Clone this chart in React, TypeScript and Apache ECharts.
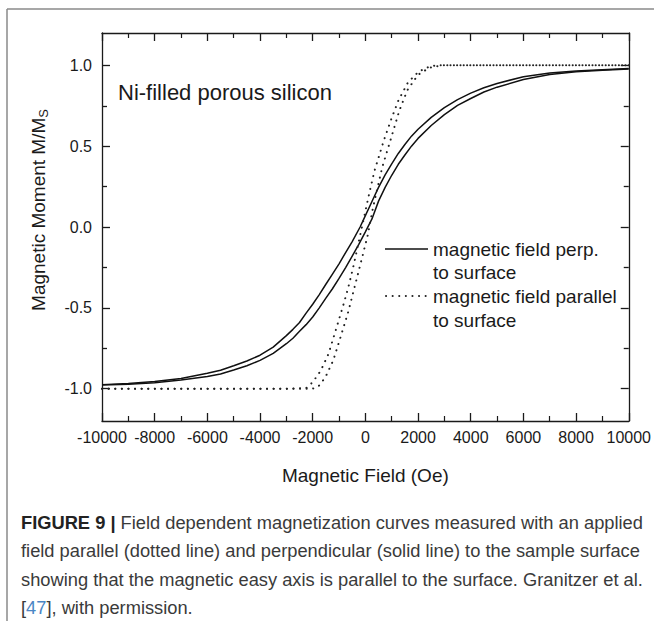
import { useEffect, useRef } from "react";
import * as echarts from "echarts";

// Applied field (Oe) and normalised moment M/Ms, perpendicular field: descending branch
const perpDescField = [-10000, -9000, -8000, -7000, -6000, -5500, -5000, -4500, -4000, -3500, -3000, -2750, -2500, -2250, -2000, -1750, -1500, -1250, -1000, -750, -500, -200, 0, 250, 500, 750, 1000, 1250, 1500, 1750, 2000, 2500, 3000, 3500, 4000, 4500, 5000, 6000, 7000, 8000, 9000, 10000];
const perpDescMoment = [-0.975, -0.968, -0.956, -0.937, -0.905, -0.886, -0.858, -0.829, -0.793, -0.743, -0.672, -0.633, -0.591, -0.533, -0.478, -0.418, -0.354, -0.291, -0.228, -0.158, -0.09, 0.0, 0.07, 0.158, 0.245, 0.322, 0.39, 0.455, 0.51, 0.562, 0.605, 0.678, 0.738, 0.788, 0.828, 0.861, 0.888, 0.93, 0.952, 0.965, 0.973, 0.98];

// Perpendicular field: ascending branch
const perpAscField = [-10000, -9000, -8000, -7000, -6000, -5500, -5000, -4500, -4000, -3500, -3000, -2750, -2500, -2250, -2000, -1750, -1500, -1250, -1000, -750, -500, -250, 0, 250, 500, 750, 1000, 1250, 1500, 1750, 2000, 2500, 3000, 3500, 4000, 4500, 5000, 6000, 7000, 8000, 9000, 10000];
const perpAscMoment = [-0.978, -0.973, -0.963, -0.947, -0.925, -0.909, -0.885, -0.858, -0.825, -0.782, -0.722, -0.688, -0.645, -0.604, -0.557, -0.5, -0.44, -0.382, -0.318, -0.251, -0.18, -0.108, -0.03, 0.05, 0.16, 0.245, 0.32, 0.388, 0.445, 0.5, 0.548, 0.628, 0.695, 0.752, 0.795, 0.835, 0.865, 0.912, 0.943, 0.96, 0.97, 0.978];

// Parallel field: descending branch
const parDescField = [-10000, -8000, -6000, -4000, -3000, -2250, -2000, -1700, -1400, -1100, -850, -650, -450, -250, -50, 150, 350, 700, 1000, 1260, 1620, 2030, 2400, 2700, 4000, 6000, 8000, 10000];
const parDescMoment = [-1.0, -1.0, -1.0, -1.0, -1.0, -0.997, -0.96, -0.89, -0.785, -0.625, -0.49, -0.375, -0.24, -0.09, 0.06, 0.21, 0.35, 0.535, 0.675, 0.785, 0.895, 0.962, 0.99, 1.0, 1.0, 1.0, 1.0, 1.0];

// Parallel field: ascending branch
const parAscField = [-10000, -8000, -6000, -4000, -2000, -1780, -1520, -1220, -960, -660, -360, -110, 90, 290, 640, 940, 1290, 1590, 1990, 2430, 2900, 4000, 6000, 8000, 10000];
const parAscMoment = [-1.0, -1.0, -1.0, -1.0, -1.0, -0.985, -0.93, -0.825, -0.69, -0.53, -0.34, -0.18, -0.05, 0.12, 0.37, 0.53, 0.72, 0.845, 0.94, 0.985, 1.0, 1.0, 1.0, 1.0, 1.0];

const yMajorTicks = [-1, -0.5, 0, 0.5, 1];
const yMinorTicks = [-0.75, -0.25, 0.25, 0.75];

const legendPerp = ["magnetic field perp.", "to surface"];
const legendPar = ["magnetic field parallel", "to surface"];
const sampleLabel = "Ni-filled porous silicon";
const xTitle = "Magnetic Field (Oe)";

const captionLines = [
  "{b|FIGURE 9 |} Field dependent magnetization curves measured with an applied",
  "field parallel (dotted line) and perpendicular (solid line) to the sample surface",
  "showing that the magnetic easy axis is parallel to the surface. Granitzer et al.",
  "[{ref|47}], with permission.",
];

const FONT = "'Liberation Sans', Arial, Helvetica, sans-serif";
const INK = "#1a1a1a";
const DOTS = [0.1, 6.5];

const zip = (xs: number[], ys: number[]) => xs.map((x, i) => [x, ys[i]]);

export default function App() {
  const ref = useRef<HTMLDivElement>(null);

  useEffect(() => {
    document.body.style.margin = "0";
    const chart = echarts.init(ref.current!, null, { renderer: "svg" });

    const baseX = {
      type: "value" as const,
      min: -10000,
      max: 10000,
      interval: 2000,
      splitLine: { show: false },
      axisLine: { show: true, onZero: false, lineStyle: { color: INK, width: 1.3 } },
      axisTick: { show: true, inside: true, length: 8, lineStyle: { color: INK, width: 1.3 } },
      minorTick: { show: true, splitNumber: 2, length: 5, lineStyle: { color: INK, width: 1.2 } },
    };

    const baseY = (position: "left" | "right", ticks: number[], len: number, showLine: boolean) => ({
      type: "value" as const,
      position,
      min: -1.2,
      max: 1.2,
      splitLine: { show: false },
      axisLine: { show: showLine, onZero: false, lineStyle: { color: INK, width: 1.3 } },
      axisTick: { show: true, inside: true, length: len, customValues: ticks, lineStyle: { color: INK, width: 1.3 } },
      axisLabel: { show: false, customValues: ticks },
    });

    const leftMajor: any = baseY("left", yMajorTicks, 8, true);
    leftMajor.axisLabel = {
      show: true,
      customValues: yMajorTicks,
      formatter: (v: number) => v.toFixed(1),
      fontSize: 16,
      fontFamily: FONT,
      color: INK,
      margin: 10,
    };

    const line = (xs: number[], ys: number[], dotted: boolean) => ({
      type: "line" as const,
      xAxisIndex: 0,
      yAxisIndex: 0,
      data: zip(xs, ys),
      showSymbol: false,
      smooth: false,
      silent: true,
      lineStyle: dotted
        ? { color: "#222", width: 2, type: DOTS as any, cap: "round" as const }
        : { color: "#111", width: 1.5 },
    });

    chart.setOption({
      animation: false,
      backgroundColor: "#ffffff",
      grid: { left: 102, top: 33, width: 527, height: 388, containLabel: false },
      xAxis: [
        {
          ...baseX,
          position: "bottom",
          axisLabel: { fontSize: 16, fontFamily: FONT, color: INK, margin: 8, formatter: (v: number) => String(v) },
          name: xTitle,
          nameLocation: "middle",
          nameGap: 45,
          nameTextStyle: { fontSize: 19, fontFamily: FONT, color: INK },
        },
        { ...baseX, position: "top", axisLabel: { show: false } },
      ],
      yAxis: [
        leftMajor,
        baseY("left", yMinorTicks, 5, false),
        baseY("right", yMajorTicks, 8, true),
        baseY("right", yMinorTicks, 5, false),
      ],
      series: [
        line(perpDescField, perpDescMoment, false),
        line(perpAscField, perpAscMoment, false),
        line(parDescField, parDescMoment, true),
        line(parAscField, parAscMoment, true),
      ],
      graphic: [
        // page frame
        { type: "line", shape: { x1: 7, y1: 9, x2: 654, y2: 9 }, style: { stroke: "#8a8a8a", lineWidth: 1.5 } },
        { type: "line", shape: { x1: 7, y1: 9, x2: 7, y2: 621 }, style: { stroke: "#8a8a8a", lineWidth: 1.5 } },
        // sample label
        {
          type: "text",
          x: 118,
          y: 92,
          style: { text: sampleLabel, fontSize: 22, fontFamily: FONT, fill: INK, align: "left", verticalAlign: "middle" },
        },
        // y-axis title with subscript
        {
          type: "text",
          x: 38,
          y: 210,
          rotation: Math.PI / 2,
          style: {
            text: "{a|Magnetic Moment M/M}{s|S}",
            align: "center",
            verticalAlign: "middle",
            rich: {
              a: { fontSize: 19, fontFamily: FONT, fill: INK, lineHeight: 24, verticalAlign: "middle" },
              s: { fontSize: 13, fontFamily: FONT, fill: INK, lineHeight: 13, verticalAlign: "bottom" },
            },
          },
        },
        // legend
        { type: "line", shape: { x1: 385, y1: 249, x2: 428, y2: 249 }, style: { stroke: "#111", lineWidth: 1.5 } },
        { type: "line", shape: { x1: 386, y1: 296, x2: 430, y2: 296 }, style: { stroke: "#222", lineWidth: 2, lineDash: DOTS, lineCap: "round" } },
        { type: "text", x: 433, y: 249, style: { text: legendPerp[0], fontSize: 19, fontFamily: FONT, fill: INK, verticalAlign: "middle" } },
        { type: "text", x: 433, y: 272, style: { text: legendPerp[1], fontSize: 19, fontFamily: FONT, fill: INK, verticalAlign: "middle" } },
        { type: "text", x: 433, y: 296, style: { text: legendPar[0], fontSize: 19, fontFamily: FONT, fill: INK, verticalAlign: "middle" } },
        { type: "text", x: 433, y: 320, style: { text: legendPar[1], fontSize: 19, fontFamily: FONT, fill: INK, verticalAlign: "middle" } },
        // caption
        ...captionLines.map((t, i) => ({
          type: "text",
          x: 21,
          y: 522 + i * 28.5,
          style: {
            text: t,
            fontSize: 18.3,
            fontFamily: FONT,
            fill: "#3a3a3a",
            verticalAlign: "middle",
            rich: {
              b: { fontSize: 18.3, fontFamily: FONT, fontWeight: "bold", fill: "#222" },
              ref: { fontSize: 18.3, fontFamily: FONT, fill: "#4a86c5" },
            },
          },
        })),
      ],
    });

    return () => chart.dispose();
  }, []);

  return <div ref={ref} style={{ position: "absolute", left: 0, top: 0, width: 654, height: 621 }} />;
}
